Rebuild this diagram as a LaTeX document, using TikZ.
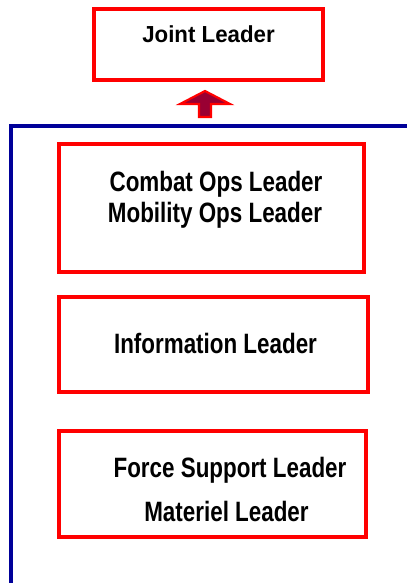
\documentclass[tikz,border=0pt]{standalone}
\usepackage{fontspec}
\setmainfont{Liberation Sans}
\newfontfamily\toplabel[FakeStretch=0.96]{Liberation Sans Bold}
\newfontfamily\unitlabel[FakeStretch=0.80]{Liberation Sans Bold}
\definecolor{boxred}{RGB}{255,0,0}
\definecolor{framenavy}{RGB}{0,0,153}
\definecolor{arrowfill}{RGB}{153,0,51}
\tikzset{
  leaderbox/.style={draw=boxred, line width=2.3pt, fill=none},
  toptext/.style={anchor=base, inner sep=0pt, font=\toplabel\fontsize{17.4pt}{21pt}\selectfont},
  unittext/.style={anchor=base, inner sep=0pt, font=\unitlabel\fontsize{21pt}{25pt}\selectfont},
  frameline/.style={draw=framenavy, line width=2.3pt},
}
\begin{document}
\begin{tikzpicture}[x=0.75pt, y=-0.75pt]
  \useasboundingbox (0,0) rectangle (407,583);
  \clip (0,0) rectangle (407,583);

  % top-level box
  \draw[leaderbox] (94,9) rectangle (323,80);
  \node[toptext] (joint) at (208.5,42) {Joint Leader};

  % upward block arrow into the top box
  \filldraw[fill=arrowfill, draw=boxred, line width=1.6pt, line join=miter]
    (205,91) -- (230,104) -- (211,104) -- (211,117) -- (199,117) -- (199,104) -- (180,104) -- cycle;

  % enclosing frame, open to the right and bottom
  \coordinate (frameBL) at (11,590);
  \coordinate (frameTL) at (11,126);
  \coordinate (frameTR) at (415,126);
  \draw[frameline] (frameBL) -- (frameTL) -- (frameTR);

  % leader boxes inside the frame
  \draw[leaderbox] (59,144) rectangle (364,272);
  \node[unittext] (combat) at (216,191) {Combat Ops Leader};
  \node[unittext] (mobility) at (215,222) {Mobility Ops Leader};

  \draw[leaderbox] (59,297) rectangle (368,392);
  \node[unittext] (info) at (215.5,353) {Information Leader};

  \draw[leaderbox] (59,431) rectangle (366,537);
  \node[unittext] (force) at (230,477) {Force Support Leader};
  \node[unittext] (materiel) at (226.5,521) {Materiel Leader};
\end{tikzpicture}
\end{document}
